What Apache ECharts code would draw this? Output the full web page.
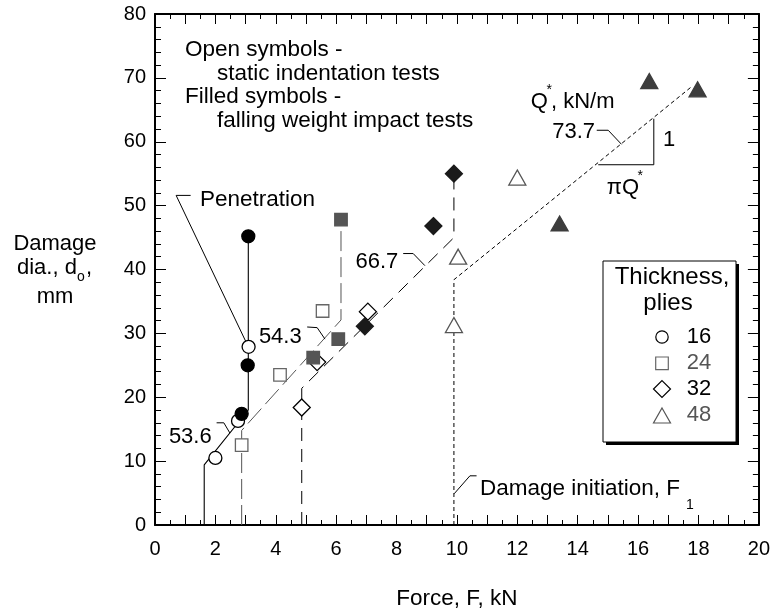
<!DOCTYPE html>
<html>
<head>
<meta charset="utf-8">
<script src="https://cdn.jsdelivr.net/npm/echarts@6/dist/echarts.min.js"></script>
<style>
html,body{margin:0;padding:0;background:#fff;}
#chart{width:773px;height:615px;}
</style>
</head>
<body>
<div id="chart"></div>
<script>
// ---- data (Force F in kN, damage diameter d_o in mm) ----
const xTickLabels = ['0','2','4','6','8','10','12','14','16','18','20'];
const yTickLabels = ['0','10','20','30','40','50','60','70','80'];

const open16   = [[2.00,10.5],[2.75,16.3],[3.10,27.9]];
const filled16 = [[2.87,17.4],[3.07,25.0],[3.09,45.2]];
const open24   = [[2.87,12.5],[4.14,23.5],[5.55,33.5]];
const filled24 = [[5.24,26.2],[6.07,29.1],[6.16,47.8]];
const open32   = [[4.86,18.4],[5.37,25.5],[7.05,33.4]];
const filled32 = [[6.95,31.1],[9.22,46.8],[9.90,55.0]];
const open48   = [[9.90,31.3],[10.04,42.0],[12.00,54.4]];
const filled48 = [[13.40,47.2],[16.37,69.5],[17.97,68.2]];

// model lines: F1 vertical, then slope 1/(pi Q*), then penetration vertical
const model16 = [[1.63,0],[1.63,9.4],[3.09,18.0],[3.09,45.2]];   // Q* = 53.6
const model24 = [[2.87,0],[2.87,14.8],[6.16,32.1],[6.16,47.8]];  // Q* = 54.3
const model32 = [[4.86,0],[4.86,21.4],[9.90,45.0],[9.90,55.0]];  // Q* = 66.7
const model48 = [[9.90,0],[9.90,38.4],[17.74,68.5]];             // Q* = 73.7

const FONT = '"Liberation Sans", Arial, Helvetica, sans-serif';

const chart = echarts.init(document.getElementById('chart'), null, {renderer:'canvas'});

function xAx(pos, showLabel){
  return {
    type:'value', min:0, max:20, interval:1, position:pos,
    axisLine:{show:true, onZero:false, lineStyle:{color:'#000', width:2}},
    axisTick:{show:true, inside:true, length:10, lineStyle:{color:'#000', width:1}},
    minorTick:{show:true, splitNumber:2, length:5, lineStyle:{color:'#000', width:1}},
    splitLine:{show:false},
    axisLabel:{show:showLabel, fontSize:20, color:'#000', fontFamily:FONT, margin:14,
      formatter:(v)=> (v%2===0 ? xTickLabels[v/2] : '')},
    name: showLabel ? 'Force, F, kN' : '',
    nameLocation:'middle', nameGap:62,
    nameTextStyle:{fontSize:22.5, color:'#000', fontFamily:FONT}
  };
}
function yAx(pos, showLabel){
  return {
    type:'value', min:0, max:80, interval:10, position:pos,
    axisLine:{show:true, onZero:false, lineStyle:{color:'#000', width:2}},
    axisTick:{show:true, inside:true, length:11, lineStyle:{color:'#000', width:1}},
    minorTick:{show:true, splitNumber:5, length:6, lineStyle:{color:'#000', width:1}},
    splitLine:{show:false},
    axisLabel:{show:showLabel, fontSize:20, color:'#000', fontFamily:FONT, margin:9,
      formatter:(v)=> yTickLabels[v/10]}
  };
}

function scat(data, symbol, size, fill, stroke, z){
  return {type:'scatter', data:data, symbol:symbol, symbolSize:size, z:z, silent:true,
    itemStyle:{color:fill, borderColor:stroke, borderWidth:1.3, opacity:1}};
}
function line(data, color, type, width){
  return {type:'line', data:data, showSymbol:false, symbol:'none', silent:true, z:2,
    lineStyle:{color:color, width:width||1, type:type}};
}
function leader(data){
  return {type:'line', data:data, showSymbol:false, symbol:'none', silent:true, z:2,
    lineStyle:{color:'#000', width:1, type:'solid'}};
}

const T = (text, x, y, opt) => Object.assign({type:'text', silent:true, z:100,
  style:Object.assign({text:text, x:x, y:y, fill:'#000', font:'22px '+FONT,
    align:'left', verticalAlign:'middle'}, opt||{})});
const F = (px) => px + 'px ' + FONT;

const option = {
  animation:false,
  backgroundColor:'#fff',
  grid:{left:155, right:14, top:14, bottom:77, containLabel:false},
  xAxis:[xAx('bottom', true), xAx('top', false)],
  yAxis:[yAx('left', true), yAx('right', false)],
  series:[
    line(model16, '#000', 'solid', 1.1),
    line(model24, '#555', [20,6], 1),
    line(model32, '#000', [13,8], 1),
    line(model48, '#000', [4,3], 1),
    // annotation leaders & slope triangle
    leader([[1.18,51.6],[0.70,51.6],[3.02,28.6]]),
    leader([[2.04,16.0],[2.28,16.0],[2.48,14.4]]),
    leader([[5.04,31.0],[5.37,30.9],[5.63,29.1]]),
    leader([[8.22,42.5],[8.55,42.5],[8.94,40.6]]),
    leader([[14.63,61.8],[15.01,61.8],[15.45,59.6]]),
    leader([[9.91,4.9],[10.43,7.7],[10.65,7.7]]),
    leader([[14.68,56.4],[16.52,56.4],[16.52,63.6]]),
    // open symbols
    scat(open16, 'circle', 13, '#fff', '#000', 5),
    scat(open24, 'rect', 12.5, '#fff', '#666', 5),
    scat(open32, 'diamond', [17,17], '#fff', '#000', 5),
    scat(open48, 'triangle', [17,15], '#fff', '#555', 5),
    // filled symbols
    scat(filled16, 'circle', 13, '#000', '#000', 6),
    scat(filled24, 'rect', 12.5, '#555', '#555', 6),
    scat(filled32, 'diamond', [17,17], '#1a1a1a', '#1a1a1a', 6),
    scat(filled48, 'triangle', [17,15], '#3d3d3d', '#3d3d3d', 6)
  ],
  graphic:[
    // y axis title
    T('Damage', 55, 244, {align:'center'}),
    T('dia., d', 17, 268),
    T('o', 77, 277, {font:F(14)}),
    T(',', 86, 268),
    T('mm', 55, 297, {align:'center'}),
    // note block
    T('Open symbols -', 185, 50, {font:F(22.5)}),
    T('static indentation tests', 217, 74, {font:F(22.5)}),
    T('Filled symbols -', 185, 97, {font:F(22.5)}),
    T('falling weight impact tests', 217, 121, {font:F(22.5)}),
    // labels
    T('Penetration', 200, 200, {font:F(22.5)}),
    T('53.6', 211.7, 436.7, {align:'right'}),
    T('54.3', 301.7, 336.7, {align:'right'}),
    T('66.7', 398.3, 261.7, {align:'right'}),
    T('73.7', 595, 131.7, {align:'right'}),
    T('Q', 530.7, 101.7),
    T('*', 546.5, 90, {font:F(14)}),
    T(', kN/m', 551, 101.7),
    T('1', 663, 140),
    T('\u03c0Q', 606.7, 188),
    T('*', 637.5, 176, {font:F(14)}),
    T('Damage initiation, F', 480, 488.3, {font:F(22.5)}),
    T('1', 686, 505, {font:F(14)}),
    // legend box
    {type:'rect', silent:true, z:90, shape:{x:606, y:264, width:133, height:181}, style:{fill:'#000'}},
    {type:'rect', silent:true, z:91, shape:{x:603, y:261, width:133, height:181}, style:{fill:'#fff', stroke:'#000', lineWidth:1}},
    T('Thickness,', 672, 277, {align:'center', font:F(24)}),
    T('plies', 668, 303, {align:'center', font:F(24)}),
    {type:'circle', silent:true, z:100, shape:{cx:662, cy:337, r:6.2}, style:{fill:'#fff', stroke:'#000', lineWidth:1.2}},
    {type:'rect', silent:true, z:100, shape:{x:655.7, y:357, width:12.6, height:12.6}, style:{fill:'#fff', stroke:'#666', lineWidth:1.2}},
    {type:'polygon', silent:true, z:100, shape:{points:[[662,380.6],[670.5,389],[662,397.4],[653.5,389]]}, style:{fill:'#fff', stroke:'#000', lineWidth:1.2}},
    {type:'polygon', silent:true, z:100, shape:{points:[[662,408],[670.5,423],[653.5,423]]}, style:{fill:'#fff', stroke:'#555', lineWidth:1.2}},
    T('16', 686.7, 337),
    T('24', 686.7, 363, {fill:'#555'}),
    T('32', 686.7, 389),
    T('48', 686.7, 415, {fill:'#555'})
  ]
};
chart.setOption(option);
</script>
</body>
</html>
